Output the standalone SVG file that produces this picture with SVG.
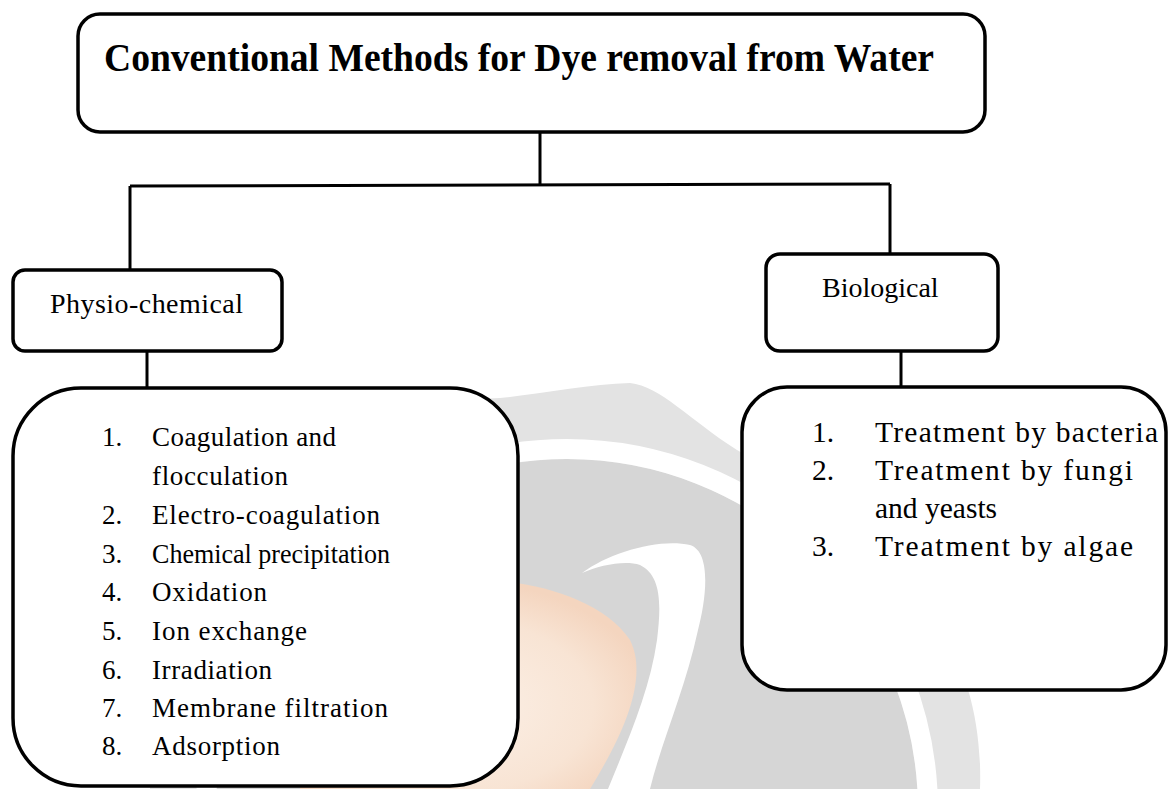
<svg xmlns="http://www.w3.org/2000/svg" width="1168" height="789" viewBox="0 0 1168 789">
  <style>
    .box { fill: #ffffff; stroke: #000000; stroke-width: 3.5; }
    .conn { stroke: #000000; stroke-width: 3; fill: none; }
    .title { font-family: "Liberation Serif", "Times New Roman", serif; font-weight: bold; font-size: 40px; fill: #000; }
    .label { font-family: "Liberation Serif", "Times New Roman", serif; font-size: 28px; fill: #000; }
    .item { font-family: "Liberation Serif", "Times New Roman", serif; font-size: 27px; fill: #000; }
    .bitem { font-family: "Liberation Serif", "Times New Roman", serif; font-size: 29.5px; fill: #000; }
  </style>
  <defs>
    <radialGradient id="globeFill" cx="0.45" cy="0.6" r="0.6">
      <stop offset="0" stop-color="#fcf1e8"/>
      <stop offset="0.7" stop-color="#f8e4d4"/>
      <stop offset="1" stop-color="#f4d5bf"/>
    </radialGradient>
  </defs>
  <rect width="1168" height="789" fill="#ffffff"/>

  <!-- background watermark -->
  <g id="watermark">
    <path d="M 150,789 C 150,560 330,402 500,398 C 540,394 590,384 630,383 C 660,386 690,420 737,450 C 900,540 985,640 980,789 Z" fill="#e3e3e3"/>
    <circle cx="567" cy="810" r="351" fill="#d6d6d6"/>
    <circle cx="567" cy="810" r="361" fill="none" stroke="#ffffff" stroke-width="20"/>
    <path d="M 300,600 L 470,580 C 520,578 600,595 630,640 C 650,680 620,740 590,789 L 300,789 Z" fill="url(#globeFill)"/>
    <path d="M 582,573 C 610,552 660,538 690,545 C 712,552 706,600 698,630 C 685,690 662,740 650,789 L 608,789 C 628,740 650,690 657,640 C 662,600 660,575 640,565 C 625,560 600,565 582,573 Z" fill="#ffffff"/>
  </g>

  <g id="connectors">
    <line class="conn" x1="540" y1="132" x2="540" y2="185"/>
    <line class="conn" x1="130" y1="186" x2="890" y2="184"/>
    <line class="conn" x1="130" y1="186" x2="130" y2="270"/>
    <line class="conn" x1="890" y1="184" x2="890" y2="254"/>
    <line class="conn" x1="147" y1="351" x2="147" y2="388"/>
    <line class="conn" x1="901" y1="351" x2="901" y2="387"/>
  </g>

  <g id="node-title">
    <rect class="box" x="78" y="14" width="907" height="118" rx="22" ry="22"/>
    <text class="title" x="104" y="71" textLength="830" lengthAdjust="spacingAndGlyphs">Conventional Methods for Dye removal from Water</text>
  </g>

  <g id="node-physio">
    <rect class="box" x="13" y="270" width="269" height="81" rx="12" ry="12"/>
    <text class="label" x="50" y="313" textLength="193" lengthAdjust="spacing">Physio-chemical</text>
  </g>

  <g id="node-bio">
    <rect class="box" x="766" y="254" width="232" height="97" rx="14" ry="14"/>
    <text class="label" x="822" y="297">Biological</text>
  </g>

  <g id="node-physio-list">
    <rect class="box" x="13" y="388" width="505" height="398" rx="68" ry="68"/>
    <text class="item" x="102" y="446">1.</text><text class="item" x="152" y="446" textLength="184" lengthAdjust="spacing">Coagulation and</text>
    <text class="item" x="152" y="485" textLength="136" lengthAdjust="spacing">flocculation</text>
    <text class="item" x="102" y="524">2.</text><text class="item" x="152" y="524" textLength="228" lengthAdjust="spacing">Electro-coagulation</text>
    <text class="item" x="102" y="563">3.</text><text class="item" x="152" y="563" textLength="238" lengthAdjust="spacingAndGlyphs">Chemical precipitation</text>
    <text class="item" x="102" y="601">4.</text><text class="item" x="152" y="601" textLength="115" lengthAdjust="spacing">Oxidation</text>
    <text class="item" x="102" y="640">5.</text><text class="item" x="152" y="640" textLength="155" lengthAdjust="spacing">Ion exchange</text>
    <text class="item" x="102" y="679">6.</text><text class="item" x="152" y="679" textLength="120" lengthAdjust="spacing">Irradiation</text>
    <text class="item" x="102" y="717">7.</text><text class="item" x="152" y="717" textLength="236" lengthAdjust="spacing">Membrane filtration</text>
    <text class="item" x="102" y="755">8.</text><text class="item" x="152" y="755" textLength="128" lengthAdjust="spacing">Adsorption</text>
  </g>

  <g id="node-bio-list">
    <rect class="box" x="742" y="387" width="424" height="303" rx="45" ry="45"/>
    <text class="bitem" x="812" y="442">1.</text><text class="bitem" x="875" y="442" textLength="283" lengthAdjust="spacing">Treatment by bacteria</text>
    <text class="bitem" x="812" y="480">2.</text><text class="bitem" x="875" y="480" textLength="258" lengthAdjust="spacing">Treatment by fungi</text>
    <text class="bitem" x="875" y="518">and yeasts</text>
    <text class="bitem" x="812" y="556">3.</text><text class="bitem" x="875" y="556" textLength="258" lengthAdjust="spacing">Treatment by algae</text>
  </g>
</svg>
